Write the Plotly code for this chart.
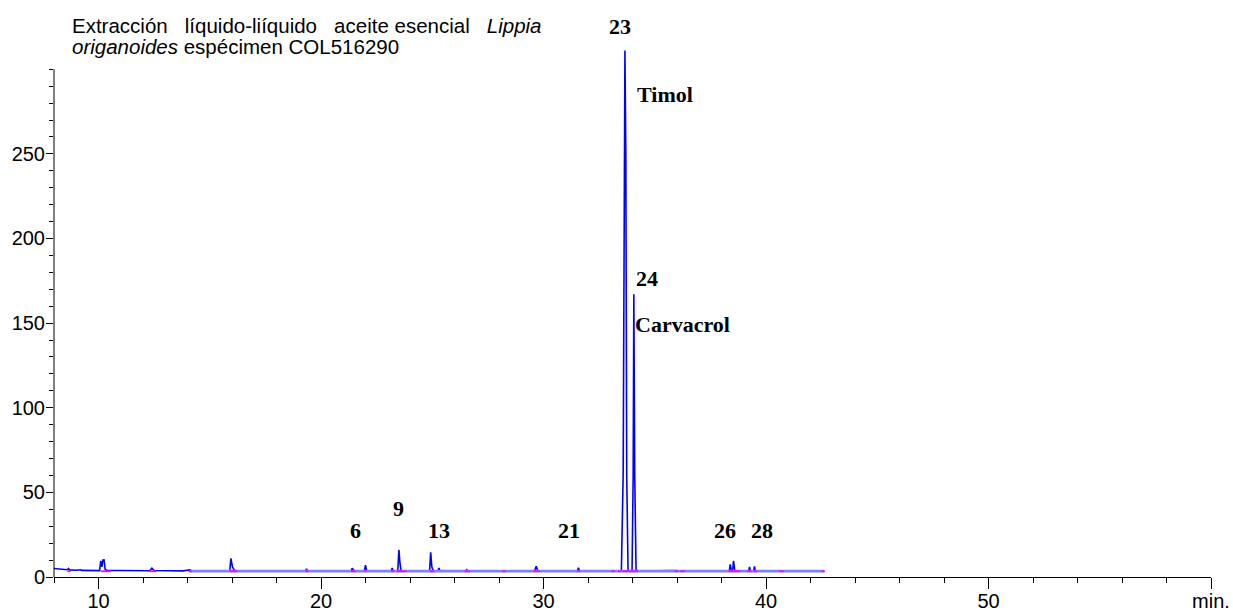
import plotly.graph_objects as go

# ---- data ----
time_min = [8.0, 8.3, 8.6, 8.65, 8.7, 9.0, 9.2, 9.25, 9.6, 10.0, 10.05, 10.1, 10.15, 10.2, 10.25, 10.3, 10.4,
            11.0, 12.3, 12.4, 12.5, 13.8, 14.1, 14.2, 15.9, 15.95, 16.02, 16.1, 16.3,
            19.3, 19.35, 19.4, 21.35, 21.4, 21.5, 21.95, 22.0, 22.05, 23.15, 23.2, 23.25,
            23.45, 23.5, 23.55, 23.6, 24.88, 24.93, 24.98, 25.05, 25.25, 25.3, 25.35,
            26.5, 26.55, 26.6, 27.1, 28.2, 29.6, 29.67, 29.75, 31.52, 31.57, 31.62,
            33.1, 33.4, 33.5, 33.58, 33.62, 33.66, 33.7, 33.74, 33.8, 33.9,
            33.98, 34.03, 34.06, 34.1, 34.16, 34.3, 35.94, 36.0, 36.2,
            38.35, 38.39, 38.44, 38.5, 38.54, 38.6, 39.22, 39.26, 39.3, 39.44, 39.48, 39.52,
            40.6, 40.9, 42.6]
signal = [5.0, 4.6, 4.3, 5.0, 4.2, 4.0, 4.3, 3.9, 3.8, 3.7, 3.8, 9.5, 6.0, 10.0, 10.1, 4.5, 3.8,
          3.8, 3.7, 5.2, 3.8, 3.6, 4.2, 3.5, 3.6, 11.0, 6.0, 4.0, 3.5,
          3.4, 4.8, 3.4, 3.4, 5.2, 3.5, 3.4, 7.0, 3.5, 3.4, 5.3, 3.5,
          3.5, 16.0, 8.0, 3.6, 3.5, 14.6, 6.0, 3.6, 3.5, 5.3, 3.5,
          3.5, 4.3, 3.5, 3.6, 3.6, 3.5, 6.3, 3.6, 3.5, 5.5, 3.5,
          3.7, 3.8, 3.6, 60.0, 250.0, 311.0, 250.0, 60.0, 4.0, 3.6,
          4.0, 60.0, 167.0, 60.0, 4.0, 3.5, 3.8, 3.7, 3.5,
          3.5, 7.5, 4.0, 3.8, 9.5, 3.7, 3.5, 5.9, 3.5, 3.5, 6.2, 3.5,
          3.7, 3.7, 3.5]

baseline_time = [14.1, 42.6]
baseline_signal = [3.5, 3.5]

# integration marks (start, end) at the base of peaks
mark_start = [8.6, 10.1, 12.3, 14.05, 15.9, 19.3, 21.35, 21.95, 23.15, 23.4, 24.9, 26.45, 28.15,
              29.55, 31.5, 33.05, 33.35, 33.55, 35.9, 36.15, 38.3, 39.15, 39.45, 40.6, 42.5]
mark_end = [8.75, 10.55, 12.6, 14.2, 16.25, 19.45, 21.55, 22.05, 23.3, 23.85, 25.1, 26.7, 28.3,
            29.85, 31.65, 33.2, 33.5, 34.25, 36.05, 36.35, 38.85, 39.35, 39.6, 40.8, 42.65]
mark_level = 3.4

peak_labels = ["23", "Timol", "24", "Carvacrol", "6", "9", "13", "21", "26", "28"]
label_x = [33.46, 35.45, 34.66, 36.26, 21.53, 23.5, 25.3, 31.13, 38.14, 39.84]
label_y = [325, 284.8, 176.5, 149, 27.2, 40.6, 27.6, 27.6, 27.6, 27.6]

x_tickvals = [10, 20, 30, 40, 50, 60]
x_ticktext = ["10", "20", "30", "40", "50", "min."]
y_tickvals = [0, 50, 100, 150, 200, 250]
y_minor = list(range(0, 301, 10))

title_line1 = "Extracción\u00a0\u00a0 líquido-liíquido\u00a0\u00a0 aceite esencial\u00a0\u00a0 <i>Lippia</i>"
title_line2 = "<i>origanoides</i> espécimen COL516290"

# ---- figure ----
fig = go.Figure()
fig.add_trace(go.Scatter(x=time_min, y=signal, mode="lines",
                         line=dict(color="#0000ff", width=1.6), hoverinfo="skip"))
fig.add_trace(go.Scatter(x=baseline_time, y=baseline_signal, mode="lines",
                         line=dict(color="#7f7fff", width=2.6), hoverinfo="skip"))
mx, my = [], []
for s, e in zip(mark_start, mark_end):
    mx += [s, e, None]
    my += [mark_level, mark_level, None]
fig.add_trace(go.Scatter(x=mx, y=my, mode="lines",
                         line=dict(color="#ff00ff", width=1.8), hoverinfo="skip"))

for t, xv, yv in zip(peak_labels, label_x, label_y):
    fig.add_annotation(x=xv, y=yv, xref="x", yref="y", text="<b>%s</b>" % t, showarrow=False,
                       font=dict(family="Liberation Serif", size=22, color="black"))

fig.add_annotation(x=(70 - 54) / 1157, y=1 - (25 - 10) / 567, xref="paper", yref="paper",
                   xanchor="left", yanchor="middle", text=title_line1, showarrow=False,
                   font=dict(family="Liberation Sans", size=20.5, color="black"))
fig.add_annotation(x=(70 - 54) / 1157, y=1 - (47 - 10) / 567, xref="paper", yref="paper",
                   xanchor="left", yanchor="middle", text=title_line2, showarrow=False,
                   font=dict(family="Liberation Sans", size=20.5, color="black"))

fig.add_shape(type="line", xref="paper", yref="y", x0=0, x1=0, y0=0, y1=300,
              line=dict(color="black", width=1))

fig.update_layout(
    width=1233, height=612,
    margin=dict(l=54, r=22, t=10, b=35, autoexpand=False),
    plot_bgcolor="white", paper_bgcolor="white",
    showlegend=False,
    font=dict(family="Liberation Sans", size=20, color="black"),
    xaxis=dict(range=[8, 60], tickmode="array", tickvals=x_tickvals, ticktext=x_ticktext,
               ticks="outside", ticklen=11, tickcolor="black", tickwidth=1, automargin=False,
               ticklabelstandoff=-5,
               showline=True, linecolor="black", linewidth=1, showgrid=False, zeroline=False,
               minor=dict(dtick=2, tick0=0, ticks="outside", ticklen=5, tickcolor="black"),
               tickfont=dict(size=20)),
    yaxis=dict(range=[0, 335], tickmode="array", tickvals=y_tickvals, automargin=False,
               ticks="outside", ticklen=7, tickcolor="black", tickwidth=1,
               ticklabelstandoff=-3,
               showline=False, showgrid=False, zeroline=False,
               minor=dict(tickmode="array", tickvals=y_minor, ticks="outside", ticklen=4,
                          tickcolor="black"),
               tickfont=dict(size=20)),
)

fig.write_html("out.html", config={"displayModeBar": False},
               post_script="document.body.style.margin='0';document.body.style.padding='0';")
